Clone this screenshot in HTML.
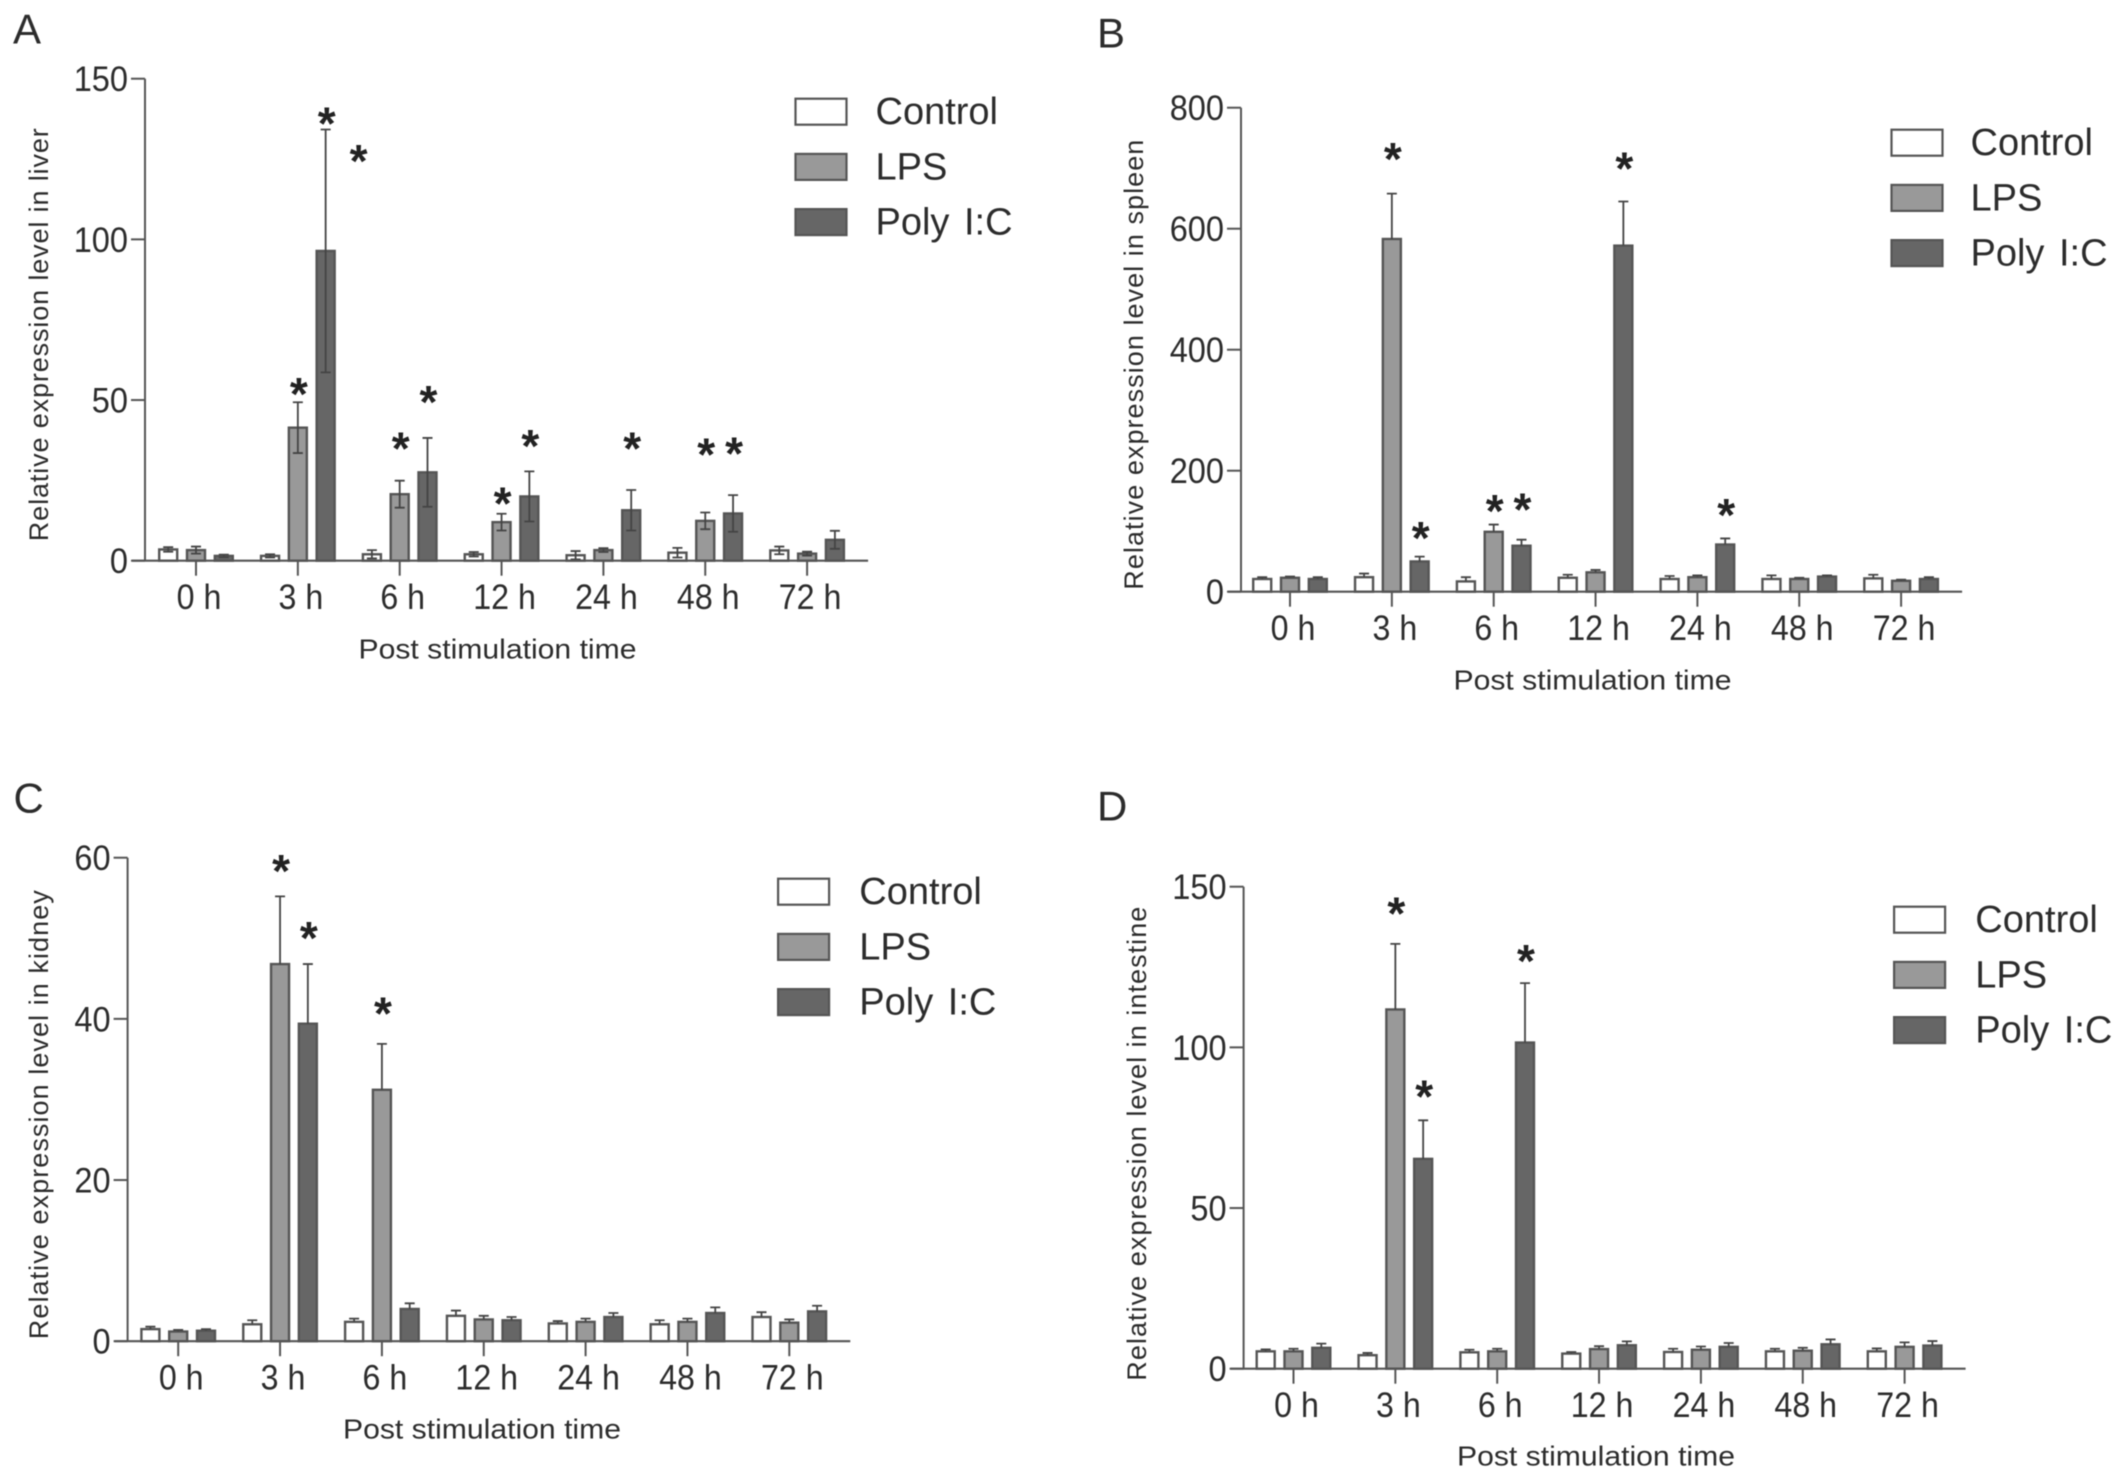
<!DOCTYPE html>
<html lang="en">
<head>
<meta charset="utf-8">
<title>Relative expression level by tissue</title>
<style>
html,body{margin:0;padding:0;background:#fff;width:2126px;height:1480px;overflow:hidden}
svg{display:block;filter:blur(0.6px)}
text{font-family:"Liberation Sans",Arial,sans-serif;fill:#2c2c2c}
</style>
</head>
<body>
<svg id="figure" xmlns="http://www.w3.org/2000/svg" width="2126" height="1480" viewBox="0 0 2126 1480"></svg>
<script>
var categories = ['0 h','3 h','6 h','12 h','24 h','48 h','72 h'];
var seriesNames = ['Control','LPS','Poly I:C'];

var liverTicks = [0,50,100,150];
var liverControl = [3.5,1.5,2,2,1.7,2.5,3.2];
var liverControlTop = [4.2,2,3.3,2.7,3,4,4.4];
var liverLps = [3.3,41.4,20.7,12,3.3,12.4,2.2];
var liverLpsTop = [4.4,49.3,24.9,14.6,3.9,15,2.8];
var liverPoly = [1.5,96.4,27.5,20,15.7,14.7,6.5];
var liverPolyTop = [1.9,134.2,38.2,27.8,22,20.4,9.3];
var liverStarGroups = [1,1,1,2,2,3,3,4,5,5];
var liverStarSeries = [1,2,3.15,1,2,1,2,2,1,2];
var liverStarLevels = [53.75,137.9,126.25,36.8,51.25,19.6,37.5,36.8,34.9,35.3];

var spleenTicks = [0,200,400,600,800];
var spleenControl = [21,24,17,23,21,21,22];
var spleenControlTop = [24,30,24,28,26,27,28];
var spleenLps = [23,583,99,32,24,21,18];
var spleenLpsTop = [25,658,111,36,27,23,20];
var spleenPoly = [21,50,76,572,78,25,21];
var spleenPolyTop = [24,58,86,645,88,27,24];
var spleenStarGroups = [1,1,2,2,3,4];
var spleenStarSeries = [1,2,1,2,2,2];
var spleenStarLevels = [725,99,143,145.5,709,136.6];

var kidneyTicks = [0,20,40,60];
var kidneyControl = [1.5,2.1,2.4,3.15,2.2,2.1,3];
var kidneyControlTop = [1.8,2.6,2.8,3.8,2.5,2.6,3.6];
var kidneyLps = [1.2,46.8,31.2,2.7,2.4,2.4,2.3];
var kidneyLpsTop = [1.4,55.2,36.9,3.15,2.8,2.8,2.7];
var kidneyPoly = [1.3,39.4,4,2.6,3,3.5,3.7];
var kidneyPolyTop = [1.5,46.8,4.7,3,3.5,4.2,4.4];
var kidneyStarGroups = [1,1,2];
var kidneyStarSeries = [1,2,1];
var kidneyStarLevels = [59.1,50.8,41.4];

var intestineTicks = [0,50,100,150];
var intestineControl = [5.4,4.2,5.1,4.7,5.2,5.4,5.4];
var intestineControlTop = [6,4.9,5.9,5.2,6.2,6.2,6.3];
var intestineLps = [5.4,111.8,5.4,6.1,5.9,5.6,6.8];
var intestineLpsTop = [6.2,132.2,6.2,7,6.9,6.5,8.2];
var intestinePoly = [6.5,65.3,101.5,7.3,6.8,7.6,7.2];
var intestinePolyTop = [7.8,77.3,120,8.5,8,9.1,8.6];
var intestineStarGroups = [1,1,2];
var intestineStarSeries = [1,2,2];
var intestineStarLevels = [143.5,86.5,128.8];

var fills = ['#ffffff','#999999','#666666'];
var NS = 'http://www.w3.org/2000/svg';
var figure = document.getElementById('figure');

function make(parent, tag, props, content) {
  var el = document.createElementNS(NS, tag);
  for (var k in props) { el.setAttribute(k, props[k]); }
  if (content !== undefined) { el.textContent = content; }
  parent.appendChild(el);
  return el;
}

function drawPanel(cfg) {
  var maxTick = cfg.ticks[cfg.ticks.length - 1];
  var yScale = function (v) { return cfg.y0 - (v / maxTick) * (cfg.y0 - cfg.yTop); };
  var xScale = function (g, s) { return cfg.firstTick + g * 101.85 + (s === undefined ? 0 : (s - 1) * 27.8); };
  var el;

  var panel = make(figure, 'g', {transform: 'translate(0,-1.3)'});
  
  

  el = make(panel, 'text', {x: cfg.letterX, y: cfg.letterY, 'font-size': 42}, cfg.letter);
  
  

  // bars and error bars
  cfg.values.forEach(function (vals, s) {
    vals.forEach(function (v, g) {
      var x = xScale(g, s);
      var top = cfg.tops[s][g];
      var bar = make(panel, 'rect', {x: x - 9, y: yScale(v), width: 18, height: cfg.y0 - yScale(v), fill: fills[s], stroke: '#555', 'stroke-width': 2.4});
      
      
      var low = cfg.symmetric ? 2 * v - top : v;
      var d = 'M' + x + ' ' + yScale(low) + 'V' + yScale(top) + 'M' + (x - 5) + ' ' + yScale(top) + 'H' + (x + 5);
      if (cfg.symmetric) { d += 'M' + (x - 5) + ' ' + yScale(low) + 'H' + (x + 5); }
      var err = make(panel, 'path', {d: d, fill: 'none', stroke: '#444', 'stroke-width': 1.8});
      
      
    });
  });

  // axes
  el = make(panel, 'path', {d: 'M' + cfg.axisX + ' ' + cfg.yTop + 'V' + cfg.y0, fill: 'none', stroke: '#555', 'stroke-width': 2});
  
  
  el = make(panel, 'path', {d: 'M' + (cfg.axisX - 13) + ' ' + cfg.y0 + 'H' + (xScale(6) + 61), fill: 'none', stroke: '#555', 'stroke-width': 2.2});
  
  

  cfg.ticks.forEach(function (t) {
    var y = yScale(t);
    var tick = make(panel, 'path', {d: 'M' + (cfg.axisX - 14) + ' ' + y + 'H' + cfg.axisX, stroke: '#555', 'stroke-width': 2});
    
    
    var label = make(panel, 'text', {transform: 'translate(' + (cfg.axisX - 17) + ',' + (y + 12.5) + ') scale(0.93,1)', 'font-size': 35, 'text-anchor': 'end'}, String(t));
    
    
  });

  categories.forEach(function (c, g) {
    var x = xScale(g);
    var tick = make(panel, 'path', {d: 'M' + x + ' ' + cfg.y0 + 'v15', stroke: '#555', 'stroke-width': 2});
    
    
    var label = make(panel, 'text', {transform: 'translate(' + (x + 3) + ',' + (cfg.y0 + 48.5) + ') scale(0.92,1)', 'font-size': 35, 'text-anchor': 'middle'}, c);
    
    
  });

  // significance stars
  cfg.starLevels.forEach(function (level, i) {
    var star = make(panel, 'text', {x: xScale(cfg.starGroups[i], cfg.starSeries[i]) + 1, y: yScale(level) + 22, 'font-size': 46, 'font-weight': 'bold', 'text-anchor': 'middle', style: 'fill:#222'}, '*');
    
    
  });

  // titles
  el = make(panel, 'text', {transform: 'translate(' + cfg.yTitleX + ',' + cfg.yTitleY + ') rotate(-90)', 'text-anchor': 'middle', 'font-size': 27, textLength: cfg.yTitleLen, lengthAdjust: 'spacing'}, cfg.yTitle);
  
  
  el = make(panel, 'text', {x: cfg.xTitleX, y: cfg.xTitleY, 'text-anchor': 'middle', 'font-size': 28, textLength: 278, lengthAdjust: 'spacingAndGlyphs'}, 'Post stimulation time');
  
  

  // legend
  var legend = make(panel, 'g', {});
  
  
  seriesNames.forEach(function (name, s) {
    var ly = cfg.legendY + s * 55.2;
    var swatch = make(legend, 'rect', {x: cfg.axisX + 650.5, y: ly + 1, width: 51, height: 26, fill: fills[s], stroke: '#555', 'stroke-width': 2.2});
    
    
    var label = make(legend, 'text', {x: cfg.axisX + 730.5 + cfg.legendTextDx, y: ly + 26.5, 'font-size': 38, 'word-spacing': 4}, name);
    
    
  });
}

drawPanel({id:'liver', letter:'A', letterX:13, letterY:45, axisX:145, yTop:80, y0:562, firstTick:196, ticks:liverTicks,
  values:[liverControl,liverLps,liverPoly], tops:[liverControlTop,liverLpsTop,liverPolyTop], symmetric:true,
  starGroups:liverStarGroups, starSeries:liverStarSeries, starLevels:liverStarLevels,
  yTitle:'Relative expression level in liver', yTitleX:48, yTitleY:336, yTitleLen:413, xTitleX:497.5, xTitleY:660, legendY:99, legendTextDx:0});
drawPanel({id:'spleen', letter:'B', letterX:1097, letterY:49, axisX:1241, yTop:109, y0:593, firstTick:1290, ticks:spleenTicks,
  values:[spleenControl,spleenLps,spleenPoly], tops:[spleenControlTop,spleenLpsTop,spleenPolyTop], symmetric:false,
  starGroups:spleenStarGroups, starSeries:spleenStarSeries, starLevels:spleenStarLevels,
  yTitle:'Relative expression level in spleen', yTitleX:1143, yTitleY:366, yTitleLen:450, xTitleX:1592.5, xTitleY:691, legendY:130, legendTextDx:-1});
drawPanel({id:'kidney', letter:'C', letterX:13.5, letterY:814, axisX:127.6, yTop:859, y0:1342.5, firstTick:178.2, ticks:kidneyTicks,
  values:[kidneyControl,kidneyLps,kidneyPoly], tops:[kidneyControlTop,kidneyLpsTop,kidneyPolyTop], symmetric:false,
  starGroups:kidneyStarGroups, starSeries:kidneyStarSeries, starLevels:kidneyStarLevels,
  yTitle:'Relative expression level in kidney', yTitleX:48, yTitleY:1116, yTitleLen:449, xTitleX:482, xTitleY:1440, legendY:879, legendTextDx:1.2});
drawPanel({id:'intestine', letter:'D', letterX:1097, letterY:822, axisX:1243.6, yTop:888, y0:1370, firstTick:1293.5, ticks:intestineTicks,
  values:[intestineControl,intestineLps,intestinePoly], tops:[intestineControlTop,intestineLpsTop,intestinePolyTop], symmetric:false,
  starGroups:intestineStarGroups, starSeries:intestineStarSeries, starLevels:intestineStarLevels,
  yTitle:'Relative expression level in intestine', yTitleX:1146, yTitleY:1145, yTitleLen:474, xTitleX:1596, xTitleY:1467, legendY:907, legendTextDx:1.2});
</script>
</body>
</html>
